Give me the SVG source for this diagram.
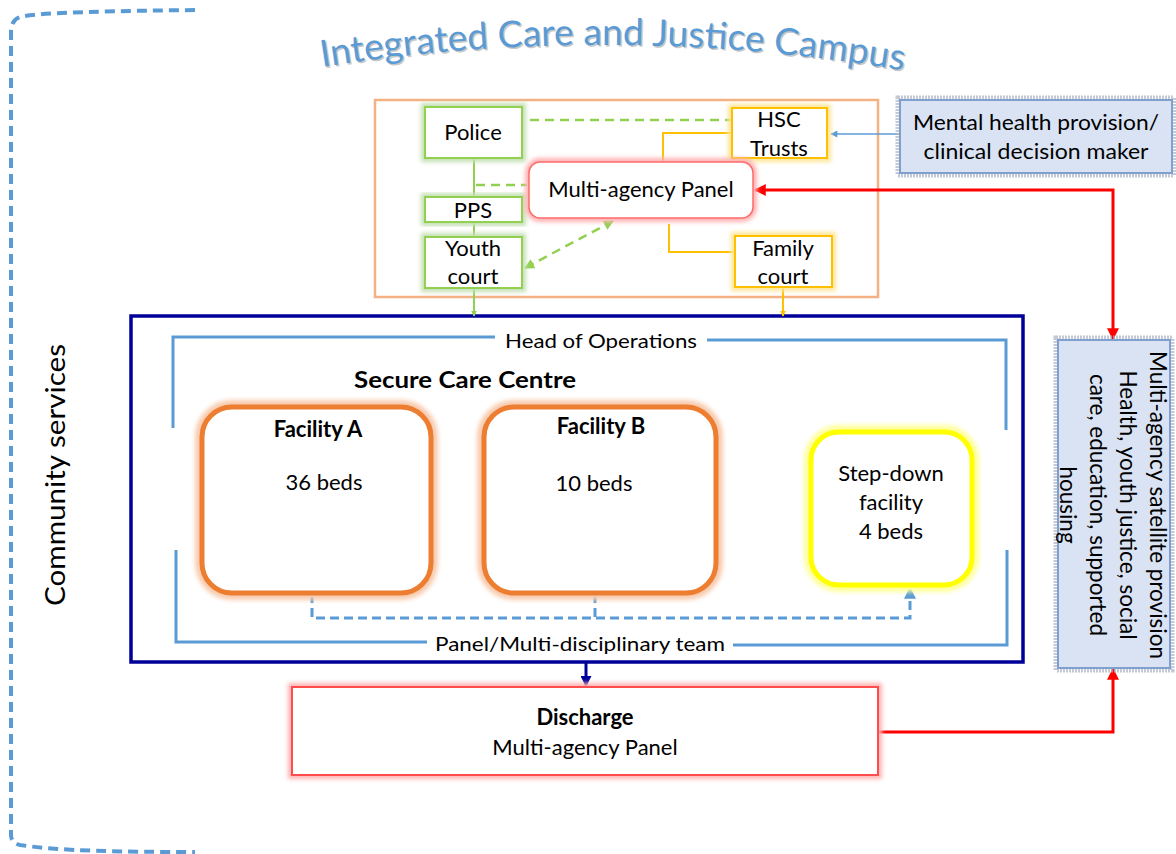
<svg xmlns="http://www.w3.org/2000/svg" width="1176" height="854" viewBox="0 0 1176 854">
<defs>
<style>
text{font-family:Lato,"Open Sans","Liberation Sans",sans-serif;fill:#000;}
.mid{text-anchor:middle}
.b{font-weight:bold}
.f20{font-size:20px}
.f21{font-size:21px}
.f22{font-size:22px}
.glow{filter:url(#blur)}
.gbox{fill:#fff;stroke:#92d050;stroke-width:2}
.gglow{fill:none;stroke:#c5e0b4;stroke-width:8}
.ybox{fill:#fff;stroke:#ffc000;stroke-width:2}
.yglow{fill:none;stroke:#ffe699;stroke-width:8}
.obox{fill:#fff;stroke:#ed7d31;stroke-width:5}
.oglow{fill:none;stroke:#f8cbad;stroke-width:14}
.bracket{fill:none;stroke:#5b9bd5;stroke-width:3}
.blueBox{fill:#dae3f3;stroke:#7f9fcf;stroke-width:2}
.blueShadow{fill:none;stroke:#aab4c4;stroke-width:5;stroke-dasharray:2,1;opacity:.7}
</style>
<filter id="blur" x="-20%" y="-20%" width="140%" height="140%"><feGaussianBlur stdDeviation="2"/></filter>
<marker id="arRed" viewBox="0 0 10 10" refX="9" refY="5" markerWidth="13" markerHeight="12" markerUnits="userSpaceOnUse" orient="auto-start-reverse"><path d="M0,0 L10,5 L0,10 z" fill="#ff0000"/></marker>
<marker id="arGreen" viewBox="0 0 10 10" refX="9" refY="5" markerWidth="11" markerHeight="10" markerUnits="userSpaceOnUse" orient="auto-start-reverse"><path d="M0,0 L10,5 L0,10 z" fill="#92d050"/></marker>
<marker id="arBlueThin" viewBox="0 0 10 10" refX="9" refY="5" markerWidth="9" markerHeight="7" markerUnits="userSpaceOnUse" orient="auto"><path d="M0,0 L10,5 L0,10 z" fill="#5b9bd5"/></marker>
<marker id="arBlue" viewBox="0 0 10 10" refX="9" refY="5" markerWidth="12" markerHeight="12" markerUnits="userSpaceOnUse" orient="auto"><path d="M0,0 L10,5 L0,10 z" fill="#5b9bd5"/></marker>
<marker id="arNavy" viewBox="0 0 10 10" refX="9" refY="5" markerWidth="12" markerHeight="11" markerUnits="userSpaceOnUse" orient="auto"><path d="M0,0 L10,5 L0,10 z" fill="#000099"/></marker>
<marker id="arSmallG" viewBox="0 0 10 10" refX="9" refY="5" markerWidth="6" markerHeight="6" markerUnits="userSpaceOnUse" orient="auto"><path d="M0,0 L10,5 L0,10 z" fill="#92d050"/></marker>
<marker id="arSmallY" viewBox="0 0 10 10" refX="9" refY="5" markerWidth="6" markerHeight="6" markerUnits="userSpaceOnUse" orient="auto"><path d="M0,0 L10,5 L0,10 z" fill="#ffc000"/></marker>
<path id="titleArc" d="M322,67 Q614,21 906,71"/>
</defs>
<rect width="1176" height="854" fill="#fff"/>

<g id="community-services">
<path d="M195,10 C120,11 40,12 20,17 Q11,20 11,32 L11,836 Q12,843 20,845 C60,851 120,852 195,852" fill="none" stroke="#5b9bd5" stroke-width="4" stroke-dasharray="10,6"/>
<text class="mid" font-size="26" transform="translate(65,475) rotate(-90)" textLength="262" lengthAdjust="spacingAndGlyphs">Community services</text>
</g>

<g id="title">
<text font-size="37" style="fill:#c8c8c8" transform="translate(1.5,1.5)"><textPath href="#titleArc" textLength="584" lengthAdjust="spacingAndGlyphs">Integrated Care and Justice Campus</textPath></text>
<text font-size="37" style="fill:#5b9bd5"><textPath href="#titleArc" textLength="584" lengthAdjust="spacingAndGlyphs">Integrated Care and Justice Campus</textPath></text>
</g>

<g id="campus-box">
<rect x="375" y="100" width="503" height="197" fill="#fff" stroke="#f4b183" stroke-width="2.5"/>
</g>

<g id="navy-box">
<rect x="131" y="316" width="892" height="346" fill="#fff" stroke="#000099" stroke-width="3.5"/>
</g>

<g id="connectors">
<path d="M474,158 V197 M474,222 V237" fill="none" stroke="#92d050" stroke-width="2"/>
<path d="M474,288 V316" fill="none" stroke="#92d050" stroke-width="2" marker-end="url(#arSmallG)"/>
<path d="M530,120 H733" fill="none" stroke="#92d050" stroke-width="2.5" stroke-dasharray="9,6"/>
<path d="M476,185 H527" fill="none" stroke="#92d050" stroke-width="2.5" stroke-dasharray="9,6"/>
<path d="M613,221 L525,268" fill="none" stroke="#92d050" stroke-width="2.5" stroke-dasharray="9,6" marker-start="url(#arGreen)" marker-end="url(#arGreen)"/>
<path d="M732,133 H663 V162" fill="none" stroke="#ffc000" stroke-width="2"/>
<path d="M669,224 V252 H735" fill="none" stroke="#ffc000" stroke-width="2"/>
<path d="M783,287 V316" fill="none" stroke="#ffc000" stroke-width="2" marker-end="url(#arSmallY)"/>
<path d="M900,134 H831" fill="none" stroke="#5b9bd5" stroke-width="1.3" marker-end="url(#arBlueThin)"/>
<path d="M1113,339 V190 H755" fill="none" stroke="#ff0000" stroke-width="3" marker-start="url(#arRed)" marker-end="url(#arRed)"/>
<path d="M878,732 H1113 V669" fill="none" stroke="#ff0000" stroke-width="3" marker-end="url(#arRed)"/>
<path d="M586,662 V686" fill="none" stroke="#000099" stroke-width="3" marker-end="url(#arNavy)"/>
<path d="M312,594 V618 H910 V588" fill="none" stroke="#5b9bd5" stroke-width="3" stroke-dasharray="9,5" marker-end="url(#arBlue)"/>
<path d="M595,594 V618" fill="none" stroke="#5b9bd5" stroke-width="3" stroke-dasharray="9,5"/>
<path class="bracket" d="M173,428 V337 H495"/>
<path class="bracket" d="M707,340 H1006 V430"/>
<path class="bracket" d="M176,550 V642 H427"/>
<path class="bracket" d="M733,645 H1007 V550"/>
</g>

<g id="police">
<rect class="gglow glow" x="425" y="107" width="97" height="51"/>
<rect class="gbox" x="425" y="107" width="97" height="51"/>
<text class="mid f22" x="473" y="140">Police</text>
</g>
<g id="pps">
<rect class="gglow glow" x="425" y="197" width="97" height="25"/>
<rect class="gbox" x="425" y="197" width="97" height="25"/>
<text class="mid f22" x="473" y="218">PPS</text>
</g>
<g id="youth-court">
<rect class="gglow glow" x="425" y="237" width="97" height="51"/>
<rect class="gbox" x="425" y="237" width="97" height="51"/>
<text class="mid f22" x="473" y="256">Youth</text>
<text class="mid f22" x="473" y="284">court</text>
</g>
<g id="hsc-trusts">
<rect class="yglow glow" x="732" y="108" width="95" height="50"/>
<rect class="ybox" x="732" y="108" width="95" height="50"/>
<text class="mid f22" x="779" y="127">HSC</text>
<text class="mid f22" x="779" y="156">Trusts</text>
</g>
<g id="family-court">
<rect class="yglow glow" x="735" y="236" width="97" height="51"/>
<rect class="ybox" x="735" y="236" width="97" height="51"/>
<text class="mid f22" x="783" y="256">Family</text>
<text class="mid f22" x="783" y="284">court</text>
</g>
<g id="multi-agency-panel">
<rect class="glow" x="529" y="162" width="224" height="56" rx="11" fill="none" stroke="#ffb3b3" stroke-width="8"/>
<rect x="529" y="162" width="224" height="56" rx="11" fill="#fff" stroke="#ff6b6b" stroke-width="1.5"/>
<text class="mid f22" x="641" y="197">Multi-agency Panel</text>
</g>
<g id="mental-health">
<rect class="blueShadow" x="898" y="98" width="276" height="77"/>
<rect class="blueBox" x="900" y="100" width="272" height="73"/>
<text class="mid" font-size="21" x="1036" y="130" textLength="246" lengthAdjust="spacingAndGlyphs">Mental health provision/</text>
<text class="mid" font-size="21" x="1036" y="159" textLength="225" lengthAdjust="spacingAndGlyphs">clinical decision maker</text>
</g>
<g id="satellite">
<rect class="blueShadow" x="1056" y="338" width="116" height="332"/>
<rect class="blueBox" x="1058" y="340" width="112" height="328"/>
<g transform="translate(1114,505) rotate(90)" font-size="22.5">
<text class="mid" x="0" y="-36">Multi-agency satellite provision</text>
<text class="mid" x="0" y="-6">Health, youth justice, social</text>
<text class="mid" x="0" y="24">care, education, supported</text>
<text class="mid" x="0" y="54">housing</text>
</g>
</g>

<g id="head-of-operations">
<text class="mid f20" x="601" y="348" textLength="192" lengthAdjust="spacingAndGlyphs">Head of Operations</text>
</g>
<g id="secure-care-centre">
<text class="mid b f22" x="465" y="388" textLength="222" lengthAdjust="spacingAndGlyphs">Secure Care Centre</text>
</g>
<g id="facility-a">
<rect class="oglow glow" x="202" y="407" width="229" height="186" rx="30"/>
<rect class="obox" x="202" y="407" width="229" height="186" rx="30"/>
<text class="mid b f22" x="318" y="437">Facility A</text>
<text class="mid f22" x="324" y="490">36 beds</text>
</g>
<g id="facility-b">
<rect class="oglow glow" x="484" y="407" width="232" height="186" rx="30"/>
<rect class="obox" x="484" y="407" width="232" height="186" rx="30"/>
<text class="mid b f22" x="601" y="434">Facility B</text>
<text class="mid f22" x="594" y="491">10 beds</text>
</g>
<g id="step-down">
<rect class="glow" x="811" y="432" width="161" height="153" rx="28" fill="none" stroke="#ffff99" stroke-width="14"/>
<rect x="811" y="432" width="161" height="153" rx="28" fill="#fff" stroke="#ffff00" stroke-width="5"/>
<text class="mid f22" x="891" y="481">Step-down</text>
<text class="mid f22" x="891" y="510">facility</text>
<text class="mid f22" x="891" y="539">4 beds</text>
</g>
<g id="panel-mdt">
<text class="mid f20" x="580" y="651" textLength="290" lengthAdjust="spacingAndGlyphs">Panel/Multi-disciplinary team</text>
</g>
<g id="discharge">
<rect class="glow" x="292" y="687" width="586" height="88" fill="none" stroke="#ffb3b3" stroke-width="8"/>
<rect x="292" y="687" width="586" height="88" fill="#fff" stroke="#ff4d4d" stroke-width="2"/>
<text class="mid b f22" x="585" y="725">Discharge</text>
<text class="mid f22" x="585" y="755">Multi-agency Panel</text>
</g>
</svg>
